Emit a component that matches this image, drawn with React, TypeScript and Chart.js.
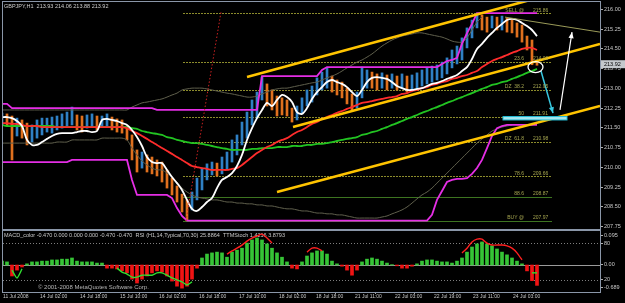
import React, { useEffect, useRef } from 'react';
import { Chart, registerables } from 'chart.js';

Chart.register(...registerables);

const FONT = "'Liberation Sans', Arial, sans-serif";
Chart.defaults.font.family = FONT;

// ---- price data (2-hour samples, index units) ----
const highs = [
  212.06,212.03,211.95,211.87,211.80,211.68,211.61,211.80,211.87,211.87,
  211.91,211.95,212.03,212.10,212.29,211.99,211.95,211.99,212.03,211.95,
  211.95,212.03,211.91,211.84,211.80,211.57,211.23,210.66,210.58,210.47,
  210.39,210.28,210.20,209.90,209.59,209.29,208.98,208.76,209.06,209.59,
  209.97,210.13,210.20,210.16,210.39,210.58,211.04,211.23,211.72,212.10,
  212.56,212.86,213.43,213.17,212.94,212.71,212.64,212.56,212.25,212.33,
  212.64,212.94,213.09,213.40,213.62,213.78,213.47,213.32,213.24,213.01,
  212.79,212.86,213.81,213.70,213.62,213.55,213.59,213.51,213.55,213.47,
  213.55,213.47,213.51,213.59,213.70,213.78,213.85,213.89,214.00,214.16,
  214.46,214.61,214.92,215.30,215.60,215.86,215.79,215.71,215.75,215.71,
  215.75,215.68,215.60,215.49,215.41,214.99,214.84,214.06
];
const lows = [
  211.61,211.57,210.28,211.19,211.11,210.85,210.96,211.11,211.23,211.34,
  211.30,211.42,211.49,211.57,211.61,211.42,211.34,211.49,211.53,211.42,
  211.53,211.57,211.42,211.34,211.30,211.04,210.28,209.82,209.97,209.82,
  209.75,209.67,209.44,209.21,208.95,208.68,208.30,207.97,208.38,208.76,
  209.14,209.52,209.71,209.67,209.75,209.90,210.20,210.47,210.85,211.11,
  211.61,211.87,212.56,212.33,212.18,211.95,211.99,211.95,211.72,211.80,
  212.03,212.33,212.48,212.75,212.94,213.01,212.86,212.75,212.64,212.41,
  212.18,212.25,212.64,213.01,213.01,212.94,213.01,212.94,213.01,212.94,
  213.01,212.86,212.94,213.01,213.09,213.17,213.24,213.32,213.40,213.55,
  213.78,213.93,214.08,214.54,214.92,215.30,215.22,215.14,215.30,215.22,
  215.22,215.14,215.11,214.95,214.76,214.46,213.90,213.88
];
const whiteMA = [
  211.91,211.91,211.87,211.76,211.57,211.04,210.85,210.85,210.96,211.08,
  211.19,211.27,211.30,211.30,211.30,211.34,211.38,211.38,211.34,211.38,
  211.80,211.84,211.80,211.76,211.68,211.61,211.42,211.15,210.81,210.39,
  210.20,210.16,210.16,209.90,209.63,209.40,209.14,208.76,208.42,208.34,
  208.49,208.68,208.83,209.21,209.52,209.63,209.78,210.05,210.47,211.04,
  211.49,211.87,212.18,212.45,212.33,212.56,212.75,212.67,212.48,212.10,
  212.03,212.25,212.60,212.86,213.05,213.24,213.32,213.24,213.17,213.05,
  212.86,212.71,212.94,213.24,213.40,213.43,213.40,213.36,213.24,213.09,
  213.01,212.94,212.94,212.98,213.01,213.09,213.17,213.21,213.28,213.36,
  213.43,213.51,213.66,213.81,214.12,214.50,214.69,214.92,215.11,215.30,
  215.45,215.60,215.64,215.60,215.49,215.37,215.22,214.99
];
const redMA = [
  211.68,211.68,211.65,211.65,211.61,211.57,211.57,211.57,211.53,211.53,
  211.53,211.53,211.53,211.53,211.53,211.53,211.53,211.53,211.53,211.53,
  211.53,211.53,211.53,211.53,211.53,211.49,211.38,211.30,211.19,211.08,
  210.96,210.85,210.73,210.62,210.51,210.39,210.28,210.16,210.05,210.01,
  209.97,209.94,209.90,209.90,209.90,209.90,209.94,209.97,210.09,210.24,
  210.39,210.54,210.66,210.77,210.85,210.96,211.04,211.11,211.23,211.34,
  211.42,211.53,211.65,211.72,211.84,211.91,211.99,212.07,212.14,212.22,
  212.29,212.37,212.45,212.48,212.52,212.56,212.60,212.64,212.67,212.71,
  212.79,212.82,212.90,212.94,213.01,213.05,213.13,213.17,213.24,213.28,
  213.36,213.40,213.47,213.51,213.59,213.66,213.81,213.93,214.04,214.12,
  214.19,214.27,214.35,214.42,214.50,214.54,214.54,214.46
];
const greenMA = [
  211.61,211.57,211.57,211.57,211.57,211.57,211.57,211.57,211.57,211.57,
  211.57,211.53,211.53,211.53,211.53,211.53,211.53,211.53,211.53,211.53,
  211.53,211.53,211.53,211.53,211.53,211.53,211.49,211.46,211.38,211.34,
  211.30,211.27,211.23,211.15,211.11,211.04,211.00,210.96,210.92,210.92,
  210.89,210.85,210.81,210.77,210.73,210.70,210.66,210.66,210.66,210.66,
  210.70,210.70,210.73,210.73,210.73,210.77,210.77,210.77,210.81,210.81,
  210.81,210.85,210.85,210.89,210.89,210.92,210.96,211.00,211.04,211.08,
  211.11,211.15,211.23,211.27,211.34,211.38,211.46,211.53,211.61,211.68,
  211.76,211.84,211.91,211.99,212.07,212.14,212.22,212.29,212.37,212.45,
  212.52,212.60,212.67,212.75,212.82,212.90,212.98,213.05,213.13,213.17,
  213.24,213.28,213.36,213.43,213.51,213.59,213.66,213.74
];
const channelHigh = [
  212.41,212.41,212.25,212.25,212.25,212.25,212.25,212.25,212.25,212.25,
  212.25,212.25,212.25,212.25,212.25,212.25,212.25,212.25,212.25,212.25,
  212.25,212.25,212.25,212.25,212.25,212.25,212.25,212.25,212.25,212.25,
  212.25,212.18,212.18,212.18,212.18,212.18,212.18,212.18,212.18,212.18,
  212.18,212.18,212.18,212.18,212.18,212.18,212.18,212.18,212.18,212.18,
  212.18,212.18,213.47,213.47,213.47,213.47,213.47,213.47,213.47,213.47,
  213.47,213.47,213.47,213.47,213.70,213.81,213.81,213.81,213.81,213.81,
  213.81,213.81,213.81,213.81,213.81,213.81,213.81,213.81,213.81,213.81,
  213.81,213.81,213.81,213.81,213.81,213.81,213.81,213.81,213.93,214.04,
  214.08,214.16,214.70,215.10,215.45,215.86,215.86,215.86,215.86,215.86,
  215.86,215.86,215.86,215.86,215.86,215.86,215.86,215.86
];
const channelLow = [
  210.20,210.20,210.20,210.20,210.20,210.20,210.20,210.20,210.20,210.20,
  210.20,210.20,210.20,210.20,210.28,210.28,210.28,210.28,210.28,210.28,
  210.28,210.28,210.28,210.28,210.28,210.28,209.52,208.95,208.95,208.95,
  208.95,208.95,208.95,208.95,208.83,208.45,208.15,207.97,207.97,207.97,
  207.97,207.97,207.97,207.97,207.97,207.97,207.97,207.97,207.97,207.97,
  207.97,207.97,207.97,207.97,207.97,207.97,207.97,207.97,207.97,207.97,
  207.97,207.97,207.97,207.97,207.97,207.97,207.97,207.97,207.97,207.97,
  207.97,207.97,207.97,207.97,207.97,207.97,207.97,207.97,207.97,207.97,
  207.97,207.97,207.97,207.97,207.97,207.97,208.19,208.76,209.10,209.44,
  209.52,209.56,209.56,209.59,209.75,209.97,210.28,210.73,211.19,211.49,
  211.57,211.61,211.61,211.61,211.61,211.61,211.61,211.61
];
const bandUpper = [
  212.18,212.18,212.18,212.18,212.18,212.18,212.18,212.18,212.18,212.18,
  212.18,212.18,212.18,212.18,212.18,212.18,212.18,212.18,212.18,212.18,
  212.18,212.18,212.18,212.18,212.18,212.18,212.29,212.37,212.45,212.48,
  212.52,212.56,212.60,212.67,212.75,212.82,212.94,212.98,213.01,213.01,
  213.01,212.98,212.94,212.90,212.86,212.82,212.79,212.75,212.71,212.67,
  212.67,212.71,212.79,212.86,212.94,212.98,213.01,213.01,213.05,213.09,
  213.13,213.17,213.21,213.24,213.32,213.40,213.47,213.55,213.66,213.78,
  213.89,214.00,214.08,214.19,214.31,214.46,214.61,214.73,214.84,214.92,
  214.99,215.03,215.07,215.11,215.11,215.07,215.03,214.99,214.95,214.88,
  214.80,214.76,214.76,214.92,215.22,215.52,215.71,null,null,null,
  null,null,null,null,null,null,null,null
];
const bandLower = [
  210.92,210.92,210.92,210.92,210.92,210.92,210.92,210.92,210.92,210.92,
  210.92,210.96,210.96,210.96,211.04,211.04,211.04,211.04,211.04,211.04,
  211.11,211.11,211.11,211.11,211.11,211.04,210.73,210.47,210.24,210.09,
  209.97,209.90,209.90,209.78,209.63,209.44,209.21,209.06,208.95,208.87,
  208.83,208.80,208.76,208.76,208.72,208.68,208.68,208.64,208.64,208.61,
  208.61,208.57,208.57,208.53,208.53,208.49,208.45,208.42,208.42,208.38,
  208.34,208.34,208.30,208.26,208.26,208.23,208.23,208.19,208.19,208.15,
  208.11,208.07,208.07,208.07,208.07,208.07,208.11,208.15,208.23,208.30,
  208.38,208.49,208.64,208.80,208.95,209.06,209.21,209.40,209.59,209.78,
  209.97,210.16,210.35,210.54,210.73,210.92,211.08,211.23,211.38,211.46,
  211.53,211.57,211.61,null,null,null,null,null
];

// ---- drawn objects (index, price) ----
const trendTop = [{ x: 49, y: 213.43 }, { x: 105.6, y: 216.36 }];
const trendMid = [{ x: 58.2, y: 211.53 }, { x: 119.6, y: 214.69 }];
const trendLow = [{ x: 55, y: 209.06 }, { x: 119.6, y: 212.33 }];
const trendThin = [{ x: 100.6, y: 215.71 }, { x: 119.6, y: 215.14 }];
const redDotted = [{ x: 36.8, y: 207.96 }, { x: 43.8, y: 215.9 }];
const whiteArrow = [{ x: 111.6, y: 212.18 }, { x: 114, y: 215.14 }];
const cyanArrow = [{ x: 107.8, y: 213.66 }, { x: 110.2, y: 212.06 }];
const cyanBox = [100.2, 113, 211.93, 211.8];
const circleAt = [106.7, 213.81];

const fibLevels = [215.86, 214.0, 212.95, 211.91, 210.98, 209.66, 208.87, 207.97];
const fibNames = ['SELL @', '23.6', 'DZ  38.2', '50', 'DZ  61.8', '78.6', '88.6', 'BUY @'];
const fibSpan = [36.2, 110];

const priceTicks = [216.0, 215.25, 214.5, 213.75, 213.0, 212.25, 211.5, 210.75, 210.0, 209.25, 208.5, 207.75];
const lastBar = [213.93, 214.06, 213.88, 213.92];

// ---- sub window ----
const macdHist = [
  0.10,0.08,-0.28,-0.13,-0.05,0.03,0.08,0.08,0.10,0.10,
  0.13,0.13,0.15,0.15,0.18,0.10,0.08,0.08,0.08,0.05,
  0.05,-0.08,-0.08,-0.10,-0.15,-0.20,-0.36,-0.46,-0.36,-0.28,
  -0.20,-0.15,-0.18,-0.28,-0.41,-0.54,-0.59,-0.54,-0.36,-0.08,
  0.18,0.28,0.31,0.33,0.31,0.20,0.33,0.38,0.43,0.56,
  0.64,0.69,0.64,0.54,0.43,0.31,0.20,0.08,-0.08,-0.10,
  0.08,0.23,0.31,0.36,0.36,0.28,0.10,0.03,-0.03,-0.13,
  -0.26,-0.13,0.08,0.15,0.18,0.15,0.10,0.05,0.01,-0.02,
  -0.08,-0.08,-0.03,0.03,0.10,0.13,0.13,0.10,0.08,0.08,
  0.05,0.10,0.18,0.33,0.46,0.54,0.59,0.54,0.49,0.41,
  0.33,0.26,0.18,0.10,0.03,-0.15,-0.40,-0.52
];
const macdLine = [
  null,null,-0.13,-0.33,-0.10,null,null,null,null,null,
  null,null,null,null,null,null,null,null,null,null,
  null,null,null,-0.08,-0.18,-0.23,-0.31,-0.31,-0.26,-0.26,
  -0.26,-0.20,-0.20,-0.26,-0.33,-0.38,-0.43,-0.51,-0.43,null,
  null,null,null,null,null,0.28,0.36,0.43,0.51,0.61,
  0.69,0.74,0.79,0.69,0.56,null,null,null,null,null,
  null,0.33,0.43,0.43,0.36,null,null,null,null,null,
  null,null,null,null,null,null,null,null,null,null,
  null,null,null,null,null,null,null,null,null,null,
  null,null,0.31,0.43,0.59,0.66,0.66,0.56,0.51,0.51,
  0.51,0.49,0.43,0.31,0.13,null,-0.20,-0.20
];
const oscWhite = [
  62.1,65.3,71.8,83.1,91.2,88.0,63.7,36.1,19.9,23.1,
  47.5,71.8,86.4,89.6,79.9,63.7,53.9,47.5,63.7,81.5,
  92.9,78.3,58.8,41.0,32.9,31.3,24.8,19.9,13.5,10.2,
  10.2,16.7,23.1,23.1,16.7,10.2,7.0,7.0,15.1,57.2,
  86.4,96.1,88.0,75.0,66.9,63.7,68.6,76.7,83.1,88.0,
  91.2,96.1,97.7,92.9,65.3,39.4,18.3,8.6,3.7,5.3,
  15.1,41.0,79.9,89.6,96.1,92.9,73.4,47.5,23.1,8.6,
  3.7,8.6,41.0,68.6,86.4,86.4,73.4,58.8,39.4,24.8,
  15.1,31.3,52.4,73.4,88.0,92.9,94.5,96.1,88.0,52.4,
  29.7,18.3,23.1,52.4,75.0,84.8,91.2,94.5,94.5,78.3,
  57.2,41.0,24.8,16.7,11.8,10.2,7.0,3.7
];
const rsiGrey = [
  60.5,58.8,55.6,52.4,50.7,49.1,49.1,49.1,49.1,49.1,
  52.4,55.6,58.8,60.5,60.5,58.8,57.2,58.8,60.5,62.1,
  63.7,58.8,52.4,47.5,41.0,36.1,32.9,29.7,26.4,23.1,
  23.1,23.1,21.6,19.9,19.9,18.3,16.7,16.7,23.1,36.1,
  49.1,55.6,58.8,60.5,62.1,63.7,65.3,66.9,68.6,70.2,
  71.8,73.4,73.4,71.8,66.9,62.1,57.2,52.4,49.1,49.1,
  52.4,58.8,65.3,68.6,68.6,65.3,60.5,55.6,50.7,49.1,
  49.1,50.7,55.6,60.5,63.7,65.3,63.7,60.5,57.2,55.6,
  52.4,53.9,57.2,60.5,63.7,65.3,65.3,65.3,63.7,60.5,
  57.2,57.2,60.5,66.9,73.4,76.7,79.9,79.9,76.7,71.8,
  66.9,62.1,58.8,55.6,52.4,49.1,45.9,42.6
];
const rsiLevels = [80, 20];
const subTickVals = [93, 80, 44.3, 20, 7];
const subTickLabels = ['0.095', '80', '0.00', '20', '-0.689'];
const macdRange = [-0.689, 0.869];

const timeLabels = ['11 Jul 2008', '14 Jul 02:00', '14 Jul 18:00', '15 Jul 10:00', '16 Jul 02:00', '16 Jul 18:00', '17 Jul 10:00', '18 Jul 02:00', '18 Jul 18:00', '21 Jul 11:00', '22 Jul 03:00', '22 Jul 19:00', '23 Jul 11:00', '24 Jul 03:00'];
const timeTickPos = [0.2, 7.6, 15.6, 23.6, 31.4, 39.4, 47.4, 55.4, 62.8, 70.6, 78.6, 86.4, 94.2, 102.2];

const X_MIN = 0.2;
const X_MAX = 119.6;
const UP = '#2f80c4';
const DOWN = '#e0701e';
const AXIS_TEXT = '#c8c8c8';
const BORDER = '#8a96a8';

const pts = (arr: (number | null)[]) => arr.map((v, i) => ({ x: i, y: v }));

const lineDs = (data: any[], color: string, width: number, order: number, extra: any = {}) => ({
  type: 'line',
  data,
  borderColor: color,
  borderWidth: width,
  pointRadius: 0,
  tension: 0,
  spanGaps: false,
  order,
  ...extra,
});

function arrowHead(ctx: CanvasRenderingContext2D, x0: number, y0: number, x1: number, y1: number, color: string) {
  const a = Math.atan2(y1 - y0, x1 - x0);
  const len = 6;
  const w = 2.6;
  ctx.fillStyle = color;
  ctx.beginPath();
  ctx.moveTo(x1, y1);
  ctx.lineTo(x1 - len * Math.cos(a) + w * Math.sin(a), y1 - len * Math.sin(a) - w * Math.cos(a));
  ctx.lineTo(x1 - len * Math.cos(a) - w * Math.sin(a), y1 - len * Math.sin(a) + w * Math.cos(a));
  ctx.closePath();
  ctx.fill();
}

const bgPlugin = {
  id: 'bgBlack',
  beforeDraw(chart: any) {
    const { ctx, width, height } = chart;
    ctx.save();
    ctx.fillStyle = '#000';
    ctx.fillRect(0, 0, width, height);
    ctx.restore();
  },
};

const mainOverlay = {
  id: 'mainOverlay',
  beforeDatasetsDraw(chart: any) {
    const { ctx, chartArea: a, scales } = chart;
    const x = scales.x;
    const y = scales.y;
    ctx.save();
    ctx.beginPath();
    ctx.rect(a.left, a.top, a.right - a.left, a.bottom - a.top);
    ctx.clip();
    fibLevels.forEach((lv, k) => {
      const py = Math.round(y.getPixelForValue(lv)) + 0.5;
      const solid = k >= 6;
      ctx.strokeStyle = solid ? '#3d7420' : '#8c8c2c';
      ctx.lineWidth = 1;
      ctx.setLineDash(solid ? [] : [2, 1]);
      ctx.beginPath();
      ctx.moveTo(x.getPixelForValue(fibSpan[0]), py);
      ctx.lineTo(x.getPixelForValue(fibSpan[1]), py);
      ctx.stroke();
    });
    ctx.setLineDash([]);
    ctx.fillStyle = '#cfcfcf';
    ctx.font = `5.5px ${FONT}`;
    ctx.textBaseline = 'middle';
    ctx.textAlign = 'left';
    ctx.fillText('GBPJPY,H1  ' + lastBar.map((v) => v.toFixed(2)).join(' '), a.left + 1, a.top + 4.5);
    ctx.restore();
  },
  afterDatasetsDraw(chart: any) {
    const { ctx, chartArea: a, scales } = chart;
    const x = scales.x;
    const y = scales.y;
    ctx.save();
    ctx.beginPath();
    ctx.rect(a.left, a.top, a.right - a.left, a.bottom - a.top);
    ctx.clip();
    ctx.font = `5px ${FONT}`;
    ctx.fillStyle = '#a6a650';
    ctx.textBaseline = 'bottom';
    fibLevels.forEach((lv, k) => {
      const py = y.getPixelForValue(lv) - 0.5;
      ctx.textAlign = 'right';
      ctx.fillText(fibNames[k], x.getPixelForValue(104.4), py);
      ctx.textAlign = 'left';
      ctx.fillText(lv.toFixed(2), x.getPixelForValue(106.2), py);
    });
    const bx0 = x.getPixelForValue(cyanBox[0]);
    const bx1 = x.getPixelForValue(cyanBox[1]);
    const by0 = y.getPixelForValue(cyanBox[2]);
    const by1 = y.getPixelForValue(cyanBox[3]);
    ctx.fillStyle = '#a6e6ee';
    ctx.fillRect(bx0, by0, bx1 - bx0, by1 - by0);
    ctx.strokeStyle = '#22bcd6';
    ctx.lineWidth = 1;
    ctx.strokeRect(bx0, by0, bx1 - bx0, by1 - by0);
    ctx.strokeStyle = '#ffffff';
    ctx.lineWidth = 1.3;
    ctx.beginPath();
    ctx.ellipse(x.getPixelForValue(circleAt[0]), y.getPixelForValue(circleAt[1]), 7.5, 5.5, 0, 0, Math.PI * 2);
    ctx.stroke();
    arrowHead(ctx, x.getPixelForValue(whiteArrow[0].x), y.getPixelForValue(whiteArrow[0].y),
      x.getPixelForValue(whiteArrow[1].x), y.getPixelForValue(whiteArrow[1].y), '#ffffff');
    arrowHead(ctx, x.getPixelForValue(cyanArrow[0].x), y.getPixelForValue(cyanArrow[0].y),
      x.getPixelForValue(cyanArrow[1].x), y.getPixelForValue(cyanArrow[1].y), '#38c8e0');
    ctx.restore();
  },
  afterDraw(chart: any) {
    const { ctx, chartArea: a, scales } = chart;
    ctx.save();
    ctx.strokeStyle = BORDER;
    ctx.lineWidth = 1;
    ctx.strokeRect(a.left - 0.5, a.top - 0.5, a.right - a.left + 1, a.bottom - a.top + 1);
    const py = scales.y.getPixelForValue(lastBar[3]);
    ctx.fillStyle = '#c4c8cc';
    ctx.fillRect(a.right + 1, py - 4, 24, 8);
    ctx.fillStyle = '#000';
    ctx.font = `5.5px ${FONT}`;
    ctx.textBaseline = 'middle';
    ctx.textAlign = 'left';
    ctx.fillText(lastBar[3].toFixed(2), a.right + 4, py);
    ctx.restore();
  },
};

const subOverlay = {
  id: 'subOverlay',
  beforeDatasetsDraw(chart: any) {
    const { ctx, chartArea: a, scales } = chart;
    ctx.save();
    ctx.lineWidth = 1;
    ctx.strokeStyle = '#7e7e7e';
    ctx.setLineDash([1, 2]);
    rsiLevels.forEach((lv) => {
      const py = Math.round(scales.r.getPixelForValue(lv)) + 0.5;
      ctx.beginPath();
      ctx.moveTo(a.left, py);
      ctx.lineTo(a.right, py);
      ctx.stroke();
    });
    ctx.setLineDash([]);
    ctx.strokeStyle = '#9a9a9a';
    const pz = Math.round(scales.m.getPixelForValue(0)) + 0.5;
    ctx.beginPath();
    ctx.moveTo(a.left, pz);
    ctx.lineTo(a.right, pz);
    ctx.stroke();
    ctx.fillStyle = '#c8c8c8';
    ctx.font = `5.5px ${FONT}`;
    ctx.textBaseline = 'middle';
    ctx.textAlign = 'left';
    ctx.fillText('MACD_color -0.470 0.000 0.000 0.000 -0.470 -0.470  RSI (H1,14,Typical,70,30) 25.8864  TTMStoch 1.4216 3.8793', a.left + 1, a.top + 4.5);
    ctx.restore();
  },
  afterDraw(chart: any) {
    const { ctx, chartArea: a } = chart;
    ctx.save();
    ctx.strokeStyle = BORDER;
    ctx.lineWidth = 1;
    ctx.strokeRect(a.left - 0.5, a.top - 0.5, a.right - a.left + 1, a.bottom - a.top + 1);
    ctx.fillStyle = '#b4b4b4';
    ctx.font = `6px ${FONT}`;
    ctx.textBaseline = 'middle';
    ctx.textAlign = 'left';
    ctx.fillText('\u00a9 2001-2008 MetaQuotes Software Corp.', a.left + 35, a.bottom - 5);
    ctx.restore();
  },
};

const rightAxis = (extra: any) => ({
  position: 'right',
  afterFit: (s: any) => {
    s.width = 25;
    s.paddingTop = 0;
    s.paddingBottom = 0;
  },
  grid: { drawOnChartArea: false, tickLength: 3, color: '#b0b0b0' },
  border: { display: false },
  ...extra,
});

export default function App() {
  const mainRef = useRef<HTMLCanvasElement>(null);
  const subRef = useRef<HTMLCanvasElement>(null);

  useEffect(() => {
    document.body.style.margin = '0';
    document.body.style.background = '#000';

    const candleData = highs.map((h, i) => ({ x: i, y: [lows[i], h] }));
    const candleColors = highs.map((h, i) => {
      if (i === 0) return UP;
      const m = (h + lows[i]) / 2;
      const pm = (highs[i - 1] + lows[i - 1]) / 2;
      return m >= pm ? UP : DOWN;
    });

    const main = new Chart(mainRef.current as HTMLCanvasElement, {
      type: 'bar',
      data: {
        datasets: [
          { type: 'bar', data: candleData, backgroundColor: candleColors, barThickness: 2, order: 20 } as any,
          lineDs(pts(bandUpper), '#5f5f4c', 1, 16, { tension: 0.3 }),
          lineDs(pts(bandLower), '#5f5f4c', 1, 16, { tension: 0.3 }),
          lineDs(pts(greenMA), '#22c422', 1.8, 13, { tension: 0.3 }),
          lineDs(pts(redMA), '#ff2c2c', 1.8, 12, { tension: 0.3 }),
          lineDs(pts(channelHigh), '#e52ee5', 1.8, 14),
          lineDs(pts(channelLow), '#e52ee5', 1.8, 14),
          lineDs(pts(whiteMA), '#ffffff', 1.8, 11, { tension: 0.3 }),
          lineDs(redDotted, '#cc2222', 1, 8, { borderDash: [1.5, 2] }),
          lineDs(trendThin, '#9a9a58', 1, 7),
          lineDs(trendTop, '#ffc400', 2.6, 5),
          lineDs(trendMid, '#ffc400', 2.6, 5),
          lineDs(trendLow, '#ffc400', 2.6, 5),
          lineDs(whiteArrow, '#ffffff', 1.2, 3),
          lineDs(cyanArrow, '#38c8e0', 1.5, 3),
        ] as any,
      },
      options: {
        responsive: false,
        animation: false,
        devicePixelRatio: 1,
        events: [],
        layout: { padding: { left: 3, right: 0, top: 2, bottom: 1 } },
        plugins: { legend: { display: false }, tooltip: { enabled: false } },
        scales: {
          x: { type: 'linear', min: X_MIN, max: X_MAX, display: false, offset: false },
          y: rightAxis({
            min: 207.654,
            max: 216.285,
            beginAtZero: false,
            afterBuildTicks: (s: any) => {
              s.ticks = priceTicks.map((v) => ({ value: v }));
            },
            ticks: {
              autoSkip: false,
              padding: 1,
              color: AXIS_TEXT,
              font: { size: 5.5, family: FONT },
              callback: (v: any) => Number(v).toFixed(2),
            },
          }),
        },
      } as any,
      plugins: [bgPlugin, mainOverlay],
    });

    const sub = new Chart(subRef.current as HTMLCanvasElement, {
      type: 'bar',
      data: {
        datasets: [
          {
            type: 'bar',
            yAxisID: 'm',
            data: pts(macdHist),
            backgroundColor: macdHist.map((v) => (v >= 0 ? '#36c436' : '#f01414')),
            barThickness: 3,
            order: 10,
          } as any,
          lineDs(pts(rsiGrey), '#8a8a78', 1, 4, { yAxisID: 'r', tension: 0.3 }),
          lineDs(pts(macdLine), '#ff2020', 1.4, 2, {
            yAxisID: 'm',
            tension: 0.2,
            segment: { borderColor: (c: any) => (c.p0.parsed.y >= 0 ? '#ff2020' : '#30e030') },
          }),
          lineDs(pts(oscWhite), '#e4e4e4', 1, 1, { yAxisID: 'r', tension: 0.35 }),
        ] as any,
      },
      options: {
        responsive: false,
        animation: false,
        devicePixelRatio: 1,
        events: [],
        layout: { padding: { left: 3, right: 0, top: 1, bottom: 0 } },
        plugins: { legend: { display: false }, tooltip: { enabled: false } },
        scales: {
          x: {
            type: 'linear',
            min: X_MIN,
            max: X_MAX,
            offset: false,
            position: 'bottom',
            afterBuildTicks: (s: any) => {
              s.ticks = timeTickPos.map((v) => ({ value: v }));
            },
            afterFit: (s: any) => {
              s.height = 11;
              s.paddingLeft = 0;
              s.paddingRight = 0;
            },
            ticks: {
              autoSkip: false,
              maxRotation: 0,
              minRotation: 0,
              align: 'start',
              padding: 0,
              color: AXIS_TEXT,
              font: { size: 5, family: FONT },
              callback: (_v: any, i: number) => timeLabels[i],
            },
            grid: { drawOnChartArea: false, tickLength: 2, color: '#a0a0a0' },
            border: { display: false },
          },
          r: rightAxis({
            min: 0,
            max: 100,
            afterBuildTicks: (s: any) => {
              s.ticks = subTickVals.map((v) => ({ value: v }));
            },
            ticks: {
              autoSkip: false,
              padding: 1,
              color: AXIS_TEXT,
              font: { size: 5.5, family: FONT },
              callback: (_v: any, i: number) => subTickLabels[i],
            },
          }),
          m: { display: false, min: macdRange[0], max: macdRange[1], beginAtZero: false },
        },
      } as any,
      plugins: [bgPlugin, subOverlay],
    });

    return () => {
      main.destroy();
      sub.destroy();
    };
  }, []);

  return (
    <div style={{ position: 'relative', width: 625, height: 303, background: '#000', overflow: 'hidden' }}>
      <canvas ref={mainRef} width={625} height={230} style={{ position: 'absolute', left: 0, top: 0, width: 625, height: 230 }} />
      <canvas ref={subRef} width={625} height={73} style={{ position: 'absolute', left: 0, top: 230, width: 625, height: 73 }} />
    </div>
  );
}
